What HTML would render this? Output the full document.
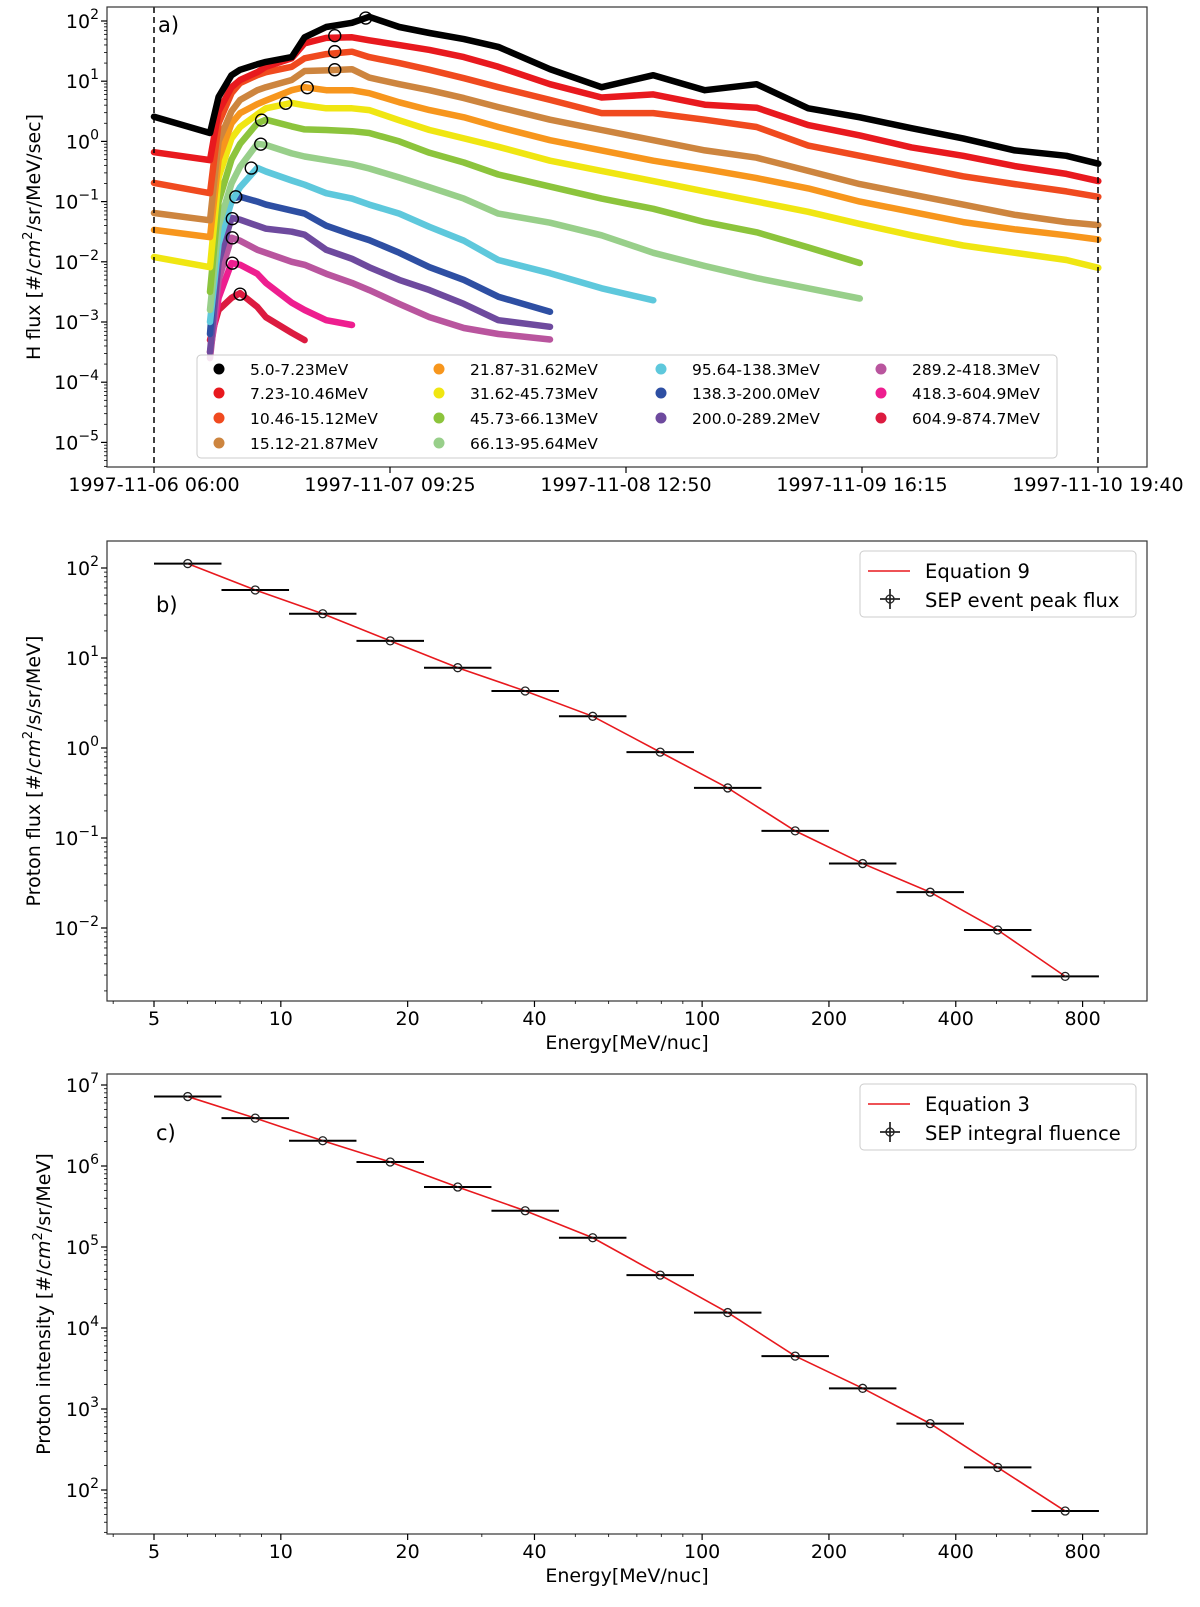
<!DOCTYPE html>
<html><head><meta charset="utf-8"><title>SEP event spectra</title>
<style>
html,body{margin:0;padding:0;background:#fff;}
svg{display:block;font-family:"DejaVu Sans","Liberation Sans",sans-serif;}
</style></head>
<body>
<svg id="fig" width="1200" height="1607" viewBox="0 0 1200 1607" xmlns="http://www.w3.org/2000/svg"></svg>
<script>
// ---------- Panel a data (time in hours since 1997-11-06 06:00, log10 flux) ----------
const aTimes = [0,6.5,7.5,9,10,12,13,16,17.5,20,23,25,28.5,32,36,40,46,52,58,64,70,76,82,88,94,100,106,109.7];
const aTickLabels = ["1997-11-06 06:00","1997-11-07 09:25","1997-11-08 12:50","1997-11-09 16:15","1997-11-10 19:40"];
const aTickHours = [0,27.4167,54.8333,82.25,109.6667];
const channelLabels = ["5.0-7.23MeV","7.23-10.46MeV","10.46-15.12MeV","15.12-21.87MeV","21.87-31.62MeV","31.62-45.73MeV","45.73-66.13MeV","66.13-95.64MeV","95.64-138.3MeV","138.3-200.0MeV","200.0-289.2MeV","289.2-418.3MeV","418.3-604.9MeV","604.9-874.7MeV"];
const ch0 = [0.41,0.14,0.74,1.1,1.19,1.28,1.32,1.40,1.73,1.9,1.97,2.07,1.9,1.8,1.7,1.57,1.2,0.9,1.1,0.85,0.95,0.55,0.4,0.22,0.05,-0.15,-0.24,-0.37];
const ch1 = [-0.18,-0.31,0.5,0.9,1.02,1.15,1.24,1.38,1.63,1.72,1.73,1.68,1.6,1.52,1.4,1.24,0.95,0.73,0.78,0.61,0.56,0.27,0.1,-0.1,-0.24,-0.41,-0.54,-0.66];
const ch2 = [-0.69,-0.86,0.3,0.8,0.97,1.1,1.15,1.24,1.38,1.45,1.49,1.4,1.3,1.19,1.05,0.9,0.69,0.47,0.47,0.36,0.24,-0.07,-0.24,-0.41,-0.58,-0.71,-0.83,-0.92];
const ch3 = [-1.19,-1.31,0.0,0.5,0.69,0.85,0.9,1.02,1.17,1.18,1.2,1.06,0.95,0.85,0.72,0.57,0.36,0.19,0.02,-0.15,-0.27,-0.49,-0.71,-0.88,-1.05,-1.22,-1.34,-1.39];
const ch4 = [-1.47,-1.59,-0.3,0.3,0.47,0.62,0.68,0.85,0.9,0.85,0.85,0.8,0.65,0.52,0.4,0.24,0.02,-0.15,-0.32,-0.46,-0.61,-0.78,-1.0,-1.17,-1.34,-1.46,-1.56,-1.63];
const ch5 = [-1.92,-2.09,-0.6,0.05,0.24,0.45,0.55,0.64,0.6,0.55,0.55,0.52,0.35,0.19,0.05,-0.09,-0.32,-0.49,-0.66,-0.83,-1.0,-1.17,-1.37,-1.56,-1.73,-1.85,-1.97,-2.1];
const ch6 = [null,-2.5,-1.0,-0.3,-0.04,0.3,0.36,0.25,0.2,0.19,0.17,0.14,0.0,-0.19,-0.35,-0.55,-0.75,-0.95,-1.12,-1.34,-1.51,-1.76,-2.02,null,null,null,null,null];
const ch7 = [null,-2.8,-1.4,-0.7,-0.42,-0.04,-0.06,-0.2,-0.25,-0.31,-0.38,-0.45,-0.6,-0.76,-0.95,-1.2,-1.35,-1.56,-1.85,-2.07,-2.27,-2.44,-2.61,null,null,null,null,null];
const ch8 = [null,-3.0,-1.7,-1.0,-0.76,-0.44,-0.5,-0.65,-0.72,-0.86,-0.95,-1.05,-1.2,-1.42,-1.65,-1.97,-2.19,-2.44,-2.64,null,null,null,null,null,null,null,null,null];
const ch9 = [null,-3.2,-1.42,-0.95,-0.92,-1.0,-1.05,-1.15,-1.2,-1.4,-1.55,-1.64,-1.85,-2.09,-2.3,-2.58,-2.83,null,null,null,null,null,null,null,null,null,null,null];
const ch10 = [null,-3.5,-2.0,-1.27,-1.3,-1.4,-1.45,-1.5,-1.55,-1.8,-1.95,-2.09,-2.3,-2.47,-2.7,-2.97,-3.08,null,null,null,null,null,null,null,null,null,null,null];
const ch11 = [null,-3.6,-2.3,-1.6,-1.65,-1.8,-1.85,-2.0,-2.05,-2.2,-2.35,-2.47,-2.7,-2.92,-3.1,-3.2,-3.29,null,null,null,null,null,null,null,null,null,null,null];
const ch12 = [null,-3.5,-2.6,-2.02,-2.05,-2.2,-2.35,-2.68,-2.8,-2.97,-3.05,null,null,null,null,null,null,null,null,null,null,null,null,null,null,null,null,null];
const ch13 = [null,-3.3,-2.8,-2.6,-2.52,-2.75,-2.92,-3.18,-3.3,null,null,null,null,null,null,null,null,null,null,null,null,null,null,null,null,null,null,null];
const peakTimes = [24.6,21.0,21.0,21.0,17.8,15.3,12.5,12.4,11.3,9.5,9.1,9.1,9.1,10.0];

// ---------- Panels b, c data ----------
const binLow  = [5.0,7.23,10.46,15.12,21.87,31.62,45.73,66.13,95.64,138.3,200.0,289.2,418.3,604.9];
const binHigh = [7.23,10.46,15.12,21.87,31.62,45.73,66.13,95.64,138.3,200.0,289.2,418.3,604.9,874.7];
const peakFlux = [112,57,31,15.5,7.8,4.3,2.25,0.9,0.36,0.12,0.052,0.025,0.0095,0.0029];
const fluence = [7.2e6,3.9e6,2.05e6,1.12e6,5.5e5,2.8e5,1.3e5,4.5e4,1.55e4,4.5e3,1.8e3,660,190,55];
const energyTicks = [5,10,20,40,100,200,400,800];
const energyMinor = [4,6,7,8,9,30,50,60,70,80,90,300,500,600,700,900];

const colors = ["#000000","#e8191e","#f04a1f","#cd853f","#f7961d","#f0e612","#8cc43c","#98cf8a","#5ec8dc","#2e4fa3","#6e4a9e","#b9559e","#ee1e8f","#dc1b40"];

const NS = "http://www.w3.org/2000/svg";
const svg = document.getElementById("fig");
function el(tag, attrs, parent){
  const e = document.createElementNS(NS, tag);
  for (const k in attrs) e.setAttribute(k, attrs[k]);
  (parent || svg).appendChild(e);
  return e;
}
const L = 107, R = 1147;
const channels = [ch0,ch1,ch2,ch3,ch4,ch5,ch6,ch7,ch8,ch9,ch10,ch11,ch12,ch13];

// axis functions
const ax = h => 154 + h * (236 / 27.4167);
const ay = lg => 21 + (2 - lg) * 60.2;
const ex = E => 154 + (Math.log10(E) - Math.log10(5)) * 421.3;
const by = v => 568 + (2 - Math.log10(v)) * 90;
const cy = v => 1085 + (7 - Math.log10(v)) * 81;

function supLabel(g, x, y, exp, name){
  const t = el("text", {x:x, y:y, "text-anchor":"end", "font-size":"19", fill:"#000"}, g);
  
  
  t.appendChild(document.createTextNode("10"));
  const s = el("tspan", {dy:"-9", "font-size":"14"}, t);
  s.textContent = (exp < 0 ? "\u2212" : "") + Math.abs(exp);
  return t;
}
function yLogAxis(g, top, bottom, fy, expMin, expMax, prefix){
  for (let e = expMin - 1; e <= expMax; e++){
    for (let m = 1; m < 10; m++){
      const v = Math.pow(10, e) * m;
      const y = fy(v);
      if (y < top || y > bottom) continue;
      const len = m === 1 ? 6 : 3;
      const tk = el("line", {x1:L-len, x2:L, y1:y, y2:y, stroke:"#000", "stroke-width": m===1?1.2:0.8}, g);
      
      
      if (m === 1) supLabel(g, 99, y + 7, e, prefix + '-y-tick-label');
    }
  }
}
function frame(g, top, bottom, name){
  const r = el("rect", {x:L, y:top, width:R-L, height:bottom-top, fill:"none", stroke:"#333", "stroke-width":1.2}, g);
  
  
}
function yTitle(g, cx, cyy, parts, name){
  const t = el("text", {x:0, y:0, "text-anchor":"middle", "font-size":"19", transform:`translate(${cx},${cyy}) rotate(-90)`}, g);
  
  
  parts.forEach(p => {
    const s = el("tspan", p.a || {}, t);
    s.textContent = p.t;
  });
}
function energyAxis(g, bottom, prefix){
  energyTicks.forEach(E => {
    const x = ex(E);
    const tk = el("line", {x1:x, x2:x, y1:bottom, y2:bottom+6, stroke:"#000", "stroke-width":1.2}, g);
    
    
    const t = el("text", {x:x, y:bottom+24, "text-anchor":"middle", "font-size":"19"}, g);
    
    
    t.textContent = E;
  });
  energyMinor.forEach(E => {
    const x = ex(E);
    if (x < L || x > R) return;
    const tk = el("line", {x1:x, x2:x, y1:bottom, y2:bottom+3, stroke:"#000", "stroke-width":0.8}, g);
    
    
  });
  const xl = el("text", {x:627, y:bottom+48, "text-anchor":"middle", "font-size":"19"}, g);
  
  
  xl.textContent = "Energy[MeV/nuc]";
}
function errMarker(g, x, y, name){
  const c = el("circle", {cx:x, cy:y, r:4, fill:"none", stroke:"#222", "stroke-width":1.3}, g);
  
  
  el("circle", {cx:x, cy:y, r:1, fill:"#222"}, g);
}
function spectrum(g, vals, fy, prefix){
  const pts = vals.map((v,i) => [ex(Math.sqrt(binLow[i]*binHigh[i])), fy(v)]);
  const line = el("polyline", {points: pts.map(p=>p.join(",")).join(" "), fill:"none", stroke:"#e8191e", "stroke-width":1.6}, g);
  
  
  vals.forEach((v,i) => {
    const y = fy(v);
    const bar = el("line", {x1:ex(binLow[i]), x2:ex(binHigh[i]), y1:y, y2:y, stroke:"#000", "stroke-width":2}, g);
    
    
    errMarker(g, pts[i][0], y, prefix + '-data-point');
  });
}
function legendBox(g, x, y, w, h, name){
  const r = el("rect", {x:x, y:y, width:w, height:h, rx:4, fill:"#fff", "fill-opacity":0.85, stroke:"#ccc", "stroke-width":1}, g);
  
  
}
function specLegend(g, top, lineLabel, ptLabel, prefix){
  legendBox(g, 860, top, 276, 66, prefix + '-legend');
  const ln = el("line", {x1:868, x2:910, y1:top+20, y2:top+20, stroke:"#e8191e", "stroke-width":1.6}, g);
  
  
  const t1 = el("text", {x:925, y:top+27, "font-size":"19.5"}, g);
  
  
  t1.textContent = lineLabel;
  const my = top + 48;
  el("line", {x1:880, x2:900, y1:my, y2:my, stroke:"#000", "stroke-width":1.5}, g);
  el("line", {x1:890, x2:890, y1:my-10, y2:my+10, stroke:"#000", "stroke-width":1.5}, g);
  errMarker(g, 890, my, prefix + '-legend-marker-swatch');
  const t2 = el("text", {x:925, y:top+56, "font-size":"19.5"}, g);
  
  
  t2.textContent = ptLabel;
}

// ================= Panel a =================
const ga = el("g", {});


const aTop = 7, aBot = 467;
const clipA = el("clipPath", {id:"clipA"}, svg);
el("rect", {x:L, y:aTop, width:R-L, height:aBot-aTop}, clipA);
const series = el("g", {"clip-path":"url(#clipA)"}, ga);


for (let c = channels.length - 1; c >= 0; c--){
  const arr = channels[c];
  let seg = [];
  const segs = [];
  arr.forEach((v,i) => {
    if (v === null){ if (seg.length) segs.push(seg); seg = []; }
    else seg.push([ax(aTimes[i]).toFixed(1), ay(v).toFixed(1)]);
  });
  if (seg.length) segs.push(seg);
  segs.forEach(s => {
    const p = el("polyline", {points: s.map(q=>q.join(",")).join(" "), fill:"none", stroke:colors[c], "stroke-width":6.5, "stroke-linejoin":"round", "stroke-linecap":"round"}, series);
    
    
  });
}
peakFlux.forEach((v,i) => {
  const pc = el("circle", {cx:ax(peakTimes[i]), cy:ay(Math.log10(v)), r:6, fill:"none", stroke:"#000", "stroke-width":1.4}, series);
  
  
});
[0, 109.6667].forEach((h,i) => {
  const d = el("line", {x1:ax(h), x2:ax(h), y1:aTop, y2:aBot, stroke:"#000", "stroke-width":1.5, "stroke-dasharray":"6,4"}, ga);
  
  
});
frame(ga, aTop, aBot, 'panel-a-axes');
for (let e = -6; e <= 2; e++){
  for (let m = 1; m < 10; m++){
    const y = ay(e + Math.log10(m));
    if (y < aTop || y > aBot) continue;
    const len = m===1 ? 6 : 3;
    const tk = el("line", {x1:L-len, x2:L, y1:y, y2:y, stroke:"#000", "stroke-width": m===1?1.2:0.8}, ga);
    
    
    if (m===1) supLabel(ga, 99, y+7, e, 'a-y-tick-label');
  }
}
aTickHours.forEach((h,i) => {
  const x = ax(h);
  const tk = el("line", {x1:x, x2:x, y1:aBot, y2:aBot+6, stroke:"#000", "stroke-width":1.2}, ga);
  
  
  const t = el("text", {x:x, y:aBot+24, "text-anchor":"middle", "font-size":"19"}, ga);
  
  
  t.textContent = aTickLabels[i];
});
const la = el("text", {x:158, y:32, "font-size":"21"}, ga);


la.textContent = "a)";
yTitle(ga, 40, 237, [{t:"H flux [#/"},{t:"cm",a:{"font-style":"italic"}},{t:"2",a:{dy:"-8","font-size":"13"}},{t:"/sr/MeV/sec]",a:{dy:"8"}}], 'a-y-axis-title');
// legend a (column-major: 4,4,3,3)
legendBox(ga, 197, 355, 860, 103, 'panel-a-legend');
const colX = [219, 439, 661, 881];
const rowY = [369, 393, 418, 443];
const colStart = [0, 4, 8, 11];
channelLabels.forEach((lab,i) => {
  let col = 0;
  for (let k = 0; k < 4; k++) if (i >= colStart[k]) col = k;
  const row = i - colStart[col];
  const m = el("circle", {cx:colX[col], cy:rowY[row], r:5.5, fill:colors[i]}, ga);
  
  
  const t = el("text", {x:colX[col]+31, y:rowY[row]+6, "font-size":"15.5"}, ga);
  
  
  t.textContent = lab;
});

// ================= Panel b =================
const gb = el("g", {});


const bTop = 541, bBot = 1001;
frame(gb, bTop, bBot, 'panel-b-axes');
yLogAxis(gb, bTop, bBot, by, -3, 2, 'b');
energyAxis(gb, bBot, 'b');
spectrum(gb, peakFlux, by, 'b');
specLegend(gb, 551, "Equation 9", "SEP event peak flux", 'b');
const lb = el("text", {x:156, y:612, "font-size":"21"}, gb);


lb.textContent = "b)";
yTitle(gb, 40, 771, [{t:"Proton flux [#/"},{t:"cm",a:{"font-style":"italic"}},{t:"2",a:{dy:"-8","font-size":"13"}},{t:"/s/sr/MeV]",a:{dy:"8"}}], 'b-y-axis-title');

// ================= Panel c =================
const gc = el("g", {});


const cTop = 1074, cBot = 1534;
frame(gc, cTop, cBot, 'panel-c-axes');
yLogAxis(gc, cTop, cBot, cy, 2, 7, 'c');
energyAxis(gc, cBot, 'c');
spectrum(gc, fluence, cy, 'c');
specLegend(gc, 1084, "Equation 3", "SEP integral fluence", 'c');
const lc = el("text", {x:156, y:1140, "font-size":"21"}, gc);


lc.textContent = "c)";
yTitle(gc, 50, 1304, [{t:"Proton intensity [#/"},{t:"cm",a:{"font-style":"italic"}},{t:"2",a:{dy:"-8","font-size":"13"}},{t:"/sr/MeV]",a:{dy:"8"}}], 'c-y-axis-title');
</script>
</body></html>
